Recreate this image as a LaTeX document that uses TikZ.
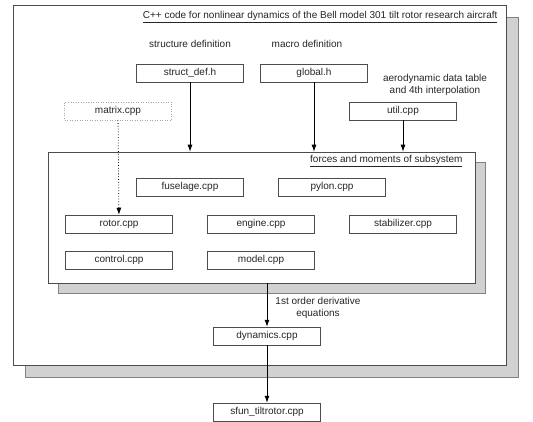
\documentclass[tikz,border=0pt]{standalone}
\usepackage{fontspec}
\setmainfont{Liberation Sans}
\usetikzlibrary{arrows.meta,calc,shadows}
\definecolor{FrameClr}{gray}{0.30}
\definecolor{ShadowClr}{gray}{0.82}

\begin{document}
\begin{tikzpicture}[x=1pt,y=-1pt,
  every node/.style={font=\fontsize{10}{11.5}\selectfont,text=black!85},
  filebox/.style={draw=FrameClr,line width=0.5pt,minimum width=107pt,minimum height=18pt,inner sep=0pt,fill=white},
  frame/.style={draw=FrameClr,line width=0.6pt,fill=white,inner sep=0pt},
  arr/.style={-{Latex[length=7pt,width=5pt]},line width=0.8pt}]
\useasboundingbox (0,0) rectangle (533,421);

% outer frame and subsystem frame
\node[frame,minimum width=493pt,minimum height=360pt,
  drop shadow={shadow xshift=12pt,shadow yshift=-12pt,fill=ShadowClr,draw=FrameClr!70,opacity=1}] (outer) at (259.5,185) {};
\node[anchor=east] (title) at (501,17) {\underline{C++ code for nonlinear dynamics of the Bell model 301 tilt rotor research aircraft}};

\node[frame,minimum width=427pt,minimum height=131pt,
  drop shadow={shadow xshift=10pt,shadow yshift=-10pt,fill=ShadowClr,draw=FrameClr!70,opacity=1}] (sub) at (261.5,217.5) {};
\node[anchor=east] (subtitle) at (466,161) {\underline{forces and moments of subsystem}};

% header files and helpers
\node (structlbl) at (190,44) {structure definition};
\node (macrolbl) at (307,44) {macro definition};
\node[align=center] (aerolbl) at (435,85) {aerodynamic data table\\and 4th interpolation};

\node[filebox] (structdef) at (190,73) {struct\_def.h};
\node[filebox] (global) at (314,73) {global.h};
\node[filebox] (util) at (403,111) {util.cpp};
\node[filebox,draw=gray!70,dash pattern=on 1pt off 1.5pt] (matrix) at (118,111) {matrix.cpp};

% subsystem files
\node[filebox] (fuselage) at (190,187) {fuselage.cpp};
\node[filebox] (pylon) at (332,187) {pylon.cpp};
\node[filebox] (rotor) at (119,224) {rotor.cpp};
\node[filebox] (engine) at (261,224) {engine.cpp};
\node[filebox] (stabilizer) at (403,224) {stabilizer.cpp};
\node[filebox] (control) at (119,260) {control.cpp};
\node[filebox] (model) at (261,260) {model.cpp};

% dynamics and s-function
\node[filebox] (dynamics) at (267,336) {dynamics.cpp};
\node[align=center] (derivlbl) at (318,308) {1st order derivative\\equations};
\node[filebox] (sfun) at (267,412) {sfun\_tiltrotor.cpp};

\draw[arr] (structdef) -- (structdef |- sub.north);
\draw[arr] (global) -- (global |- sub.north);
\draw[arr] (util) -- (util |- sub.north);
\draw[arr,dotted] (matrix) -- (rotor);
\draw[arr] (sub.south -| dynamics) -- (dynamics);
\draw[arr] (dynamics) -- (sfun);

\end{tikzpicture}
\end{document}
